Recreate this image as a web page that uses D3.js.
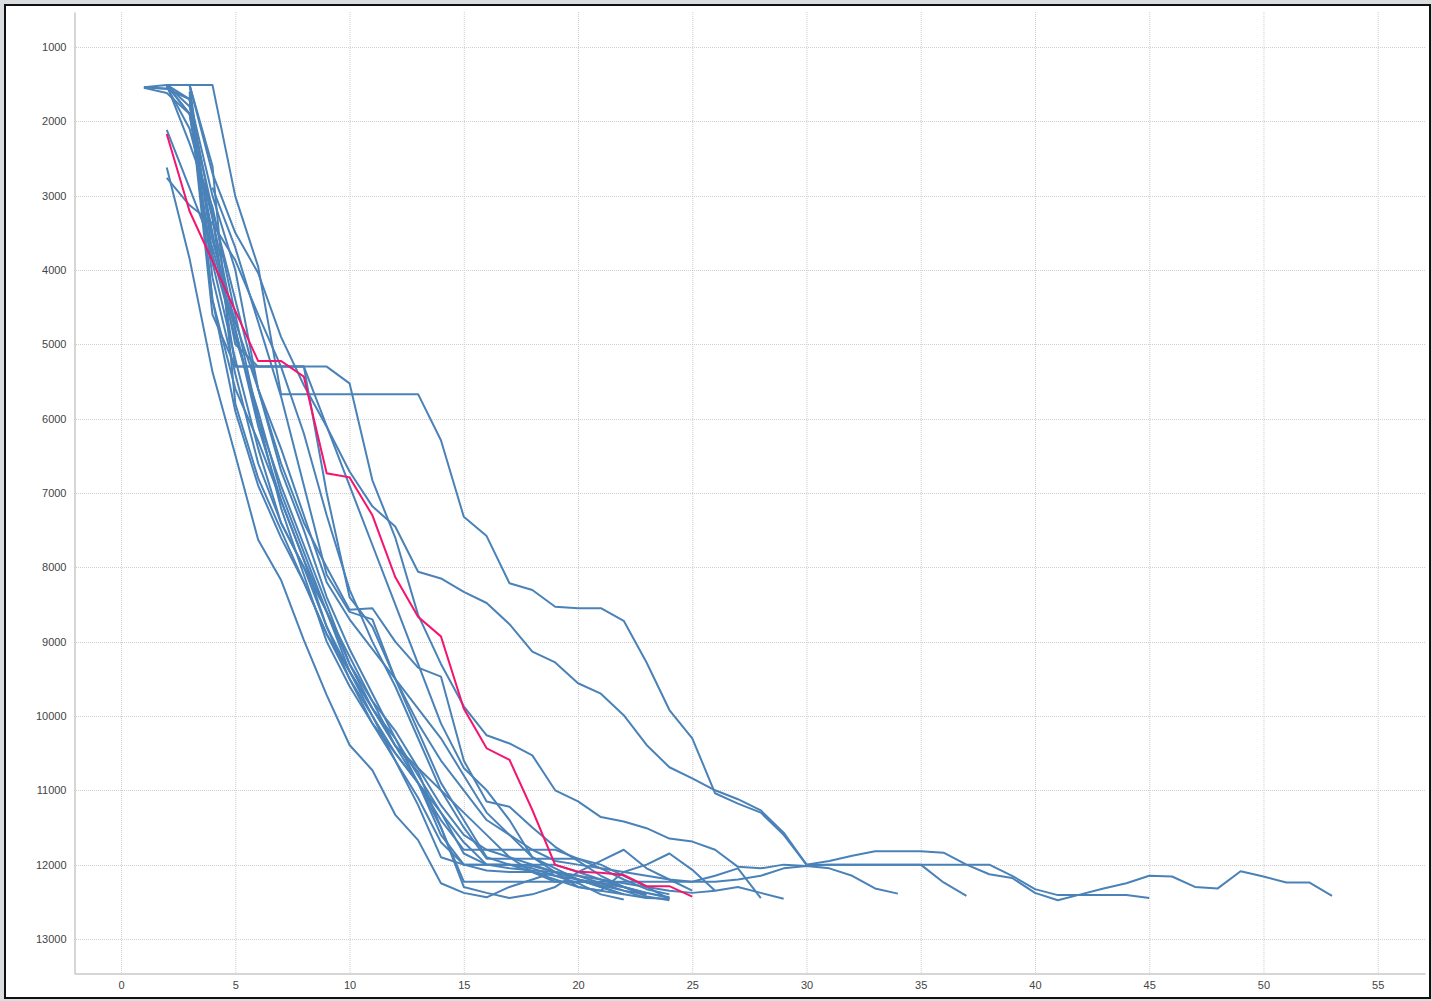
<!DOCTYPE html>
<html>
<head>
<meta charset="utf-8">
<script src="https://cdn.jsdelivr.net/npm/d3@7"></script>
<style>
  html, body { margin: 0; padding: 0; background: #d9dde0; }
  #frame { position: absolute; left: 4px; top: 4px; width: 1423px; height: 991px; border: 2px solid #111; background: #fff; }
  svg { position: absolute; left: -6px; top: -6px; }
  .tick text { font-family: "Liberation Sans", Arial, sans-serif; font-size: 11px; fill: #444; }
</style>
</head>
<body>
<div id="frame"></div>
<script>
// ---------- data ----------
const xTicks = [0, 5, 10, 15, 20, 25, 30, 35, 40, 45, 50, 55];
const yTicks = [1000, 2000, 3000, 4000, 5000, 6000, 7000, 8000, 9000, 10000, 11000, 12000, 13000];
const xExtent = [-2.06, 57.07];
const yExtent = [529, 13458];

// highlighted series (pink), starts at x = 2
const highlightStart = 2;
const highlight = [2170, 3210, 3880, 4550, 5225, 5225, 5435, 6735, 6790, 7300, 8130, 8665, 8930, 9900, 10435, 10590, 11265, 12005, 12095, 12110, 12140, 12290, 12290, 12430];

// blue series: consecutive values from a start x
const sB  = [1510, 1510, 1510, 3010, 3955, 5670, 5670, 5670, 5670, 5670, 5670, 5670, 6290, 7320, 7580, 8215, 8305, 8530, 8550, 8550, 8720, 9280, 9920, 10300, 11040, 11180, 11300, 11600, 12000, 12000, 12000, 12000, 12000, 12000, 12240, 12420];
const sC  = [1510, 1510, 2700, 3500, 4040, 4900, 5550, 6110, 6710, 7180, 7450, 8060, 8150, 8330, 8480, 8765, 9135, 9280, 9560, 9700, 9990, 10390, 10690, 10840, 11000, 11120, 11270, 11570, 12000, 11950, 11880, 11820, 11820, 11820, 11840, 12000, 12130, 12180, 12380, 12480, 12400, 12320, 12250, 12150, 12160, 12300, 12320, 12090, 12160, 12240, 12240, 12420];
const sD  = [1540, 1560, 1700, 3300, 5300, 5300, 5300, 5300, 5300, 5525, 6830, 7600, 8640, 9300, 9870, 10260, 10370, 10530, 11000, 11150, 11360, 11420, 11510, 11650, 11690, 11800, 12030, 12050, 12000, 12020, 12000, 12000, 12000, 12000, 12000, 12000, 12000, 12000, 12150, 12330, 12410, 12410, 12410, 12410, 12450];
const sE  = [1510, 1900, 3600, 4700, 5600, 6400, 7300, 8200, 8700, 9100, 9500, 9900, 10300, 10800, 11300, 11600, 11800, 11950, 12000, 12050, 12100, 12150, 12200, 12230, 12230, 12200, 12150, 12050, 12020, 12050, 12150, 12320, 12390];
const s01 = [2620, 3850, 5370, 6490, 7630, 8170, 8980, 9720, 10390, 10730, 11330, 11670, 12250, 12380, 12440, 12300, 12200, 12100, 12150, 12250, 12350, 12450];
const s02 = [2760, 3130, 3370, 3870, 4600, 5300, 6200, 7300, 8300, 9000, 9600, 10300, 11000, 11500, 11920, 11920, 11920, 11920, 11920, 12000, 12150, 12300, 12460];
const s03 = [1540, 1560, 1700, 4400, 5900, 6900, 7600, 8200, 8900, 9500, 10100, 10500, 10900, 11400, 11800, 11800, 11800, 11800, 11800, 11920, 12050, 12200, 12330, 12400];
const s04 = [2115, 2900, 3700, 4800, 6100, 7100, 7900, 8800, 9500, 10000, 10600, 11200, 11900, 12000, 12000, 12000, 12020, 12100, 12200, 12300, 12400, 12450, 12460];
const s05 = [1520, 1900, 3900, 5200, 6400, 7400, 8000, 8600, 9200, 9800, 10400, 10750, 11500, 12230, 12230, 12230, 12230, 12230, 12230, 12250, 12300, 12400];
const s06 = [1510, 1700, 4600, 5300, 5300, 5300, 5300, 7000, 8400, 8800, 9500, 10100, 10600, 11000, 11400, 11600, 11900, 12050, 12200, 12280, 12350, 12400];
const s07 = [1550, 1620, 1900, 3500, 5000, 5300, 5300, 5300, 6100, 6900, 7700, 8500, 9300, 10100, 10700, 11000, 11400, 11900, 12100, 12200, 12250, 12300, 12380, 12440];
const s08 = [1510, 2300, 3150, 4600, 6000, 6900, 7700, 8500, 9300, 9800, 10200, 10700, 11200, 11600, 11800, 11900, 12000, 12100, 12300, 12350, 12100, 12000, 11850, 12070, 12350];
const s09 = [1510, 3800, 4900, 5900, 7000, 7800, 8600, 9400, 9900, 10400, 10900, 11600, 12000, 12080, 12100, 12100, 12150, 12200, 12300, 12400];
const s10 = [1640, 4100, 5400, 6600, 7400, 8000, 8800, 9400, 10000, 10500, 10900, 11500, 12300, 12380, 12450, 12400, 12300, 12100, 11950, 11800, 12050, 12200, 12350];
const s11 = [2890, 3700, 4700, 5700, 6900, 8100, 8600, 8700, 9500, 10200, 10900, 11400, 11900, 12000, 12100, 12230, 12230, 12230, 12230, 12230, 12230, 12230, 12150, 12050, 12450];
const s12 = [1510, 1800, 3200, 4400, 5600, 6600, 7400, 8000, 8570, 8550, 9000, 9350, 9470, 10600, 11150, 11220, 11500, 11760, 11950, 12150, 12300, 12430, 12480];
const s13 = [1530, 2100, 3300, 4800, 6000, 7200, 8100, 9000, 9600, 10100, 10600, 11100, 11700, 12000, 12000, 12000, 12050, 12150, 12250, 12400, 12470];
const s14 = [1700, 3000, 4000, 5600, 6700, 7500, 8400, 9100, 9700, 10300, 10800, 11300, 11700, 12000, 12050, 12080, 12100, 12150, 12200, 12250, 12300, 12350, 12380, 12350, 12300, 12380, 12460];
const s15 = [1600, 4400, 5600, 6300, 7100, 7900, 8600, 9300, 9900, 10300, 10900, 11300, 11850, 12000, 12000, 12000, 12000, 12100, 12200, 12300, 12380, 12450];
const s16 = [1540, 1510, 1510, 2600, 5800, 6800, 7500, 8200, 8900, 9400, 9900, 10400, 10700, 11000, 11300, 11600, 11900, 12100, 12200, 12300, 12350, 12400];
const blueSeries = [sB, sC, sD, sE, s01, s02, s03, s04, s05, s06, s07, s08, s09, s10, s11, s12, s13, s14, s15, s16];
const blueStarts = [2, 2, 1, 2, 2, 2, 1, 2, 2, 2, 1, 2, 3, 3, 4, 2, 2, 3, 3, 1];

// ---------- chart ----------
const W = 1432, H = 1001;
const svg = d3.select("#frame").append("svg").attr("width", W).attr("height", H);

const x = d3.scaleLinear().domain(xExtent).range([74, 1425]);
const y = d3.scaleLinear().domain(yExtent).range([12, 973]);

// grid
const grid = svg.append("g");
grid.selectAll("line.vx").data(xTicks).join("line")
  .attr("x1", d => x(d) + 0.5).attr("x2", d => x(d) + 0.5)
  .attr("y1", 12).attr("y2", 973)
  .attr("stroke", "#cfcfcf").attr("stroke-dasharray", "1,1");
grid.selectAll("line.hy").data(yTicks).join("line")
  .attr("x1", 74).attr("x2", 1425)
  .attr("y1", d => Math.round(y(d)) + 0.5).attr("y2", d => Math.round(y(d)) + 0.5)
  .attr("stroke", "#cfcfcf").attr("stroke-dasharray", "1,1");

// axes
const xAxis = svg.append("g").attr("transform", "translate(0,973.5)")
  .call(d3.axisBottom(x).tickValues(xTicks).tickSize(0).tickPadding(8));
const yAxis = svg.append("g").attr("transform", "translate(74.5,0)")
  .call(d3.axisLeft(y).tickValues(yTicks).tickSize(0).tickPadding(8).tickFormat(d3.format("d")));
[xAxis, yAxis].forEach(g => g.select(".domain").attr("stroke", "#c8c8c8").attr("stroke-width", 1.5));

// lines
const line = d3.line().x(d => x(d[0])).y(d => y(d[1]));
const toPts = (vals, start) => vals.map((v, i) => [start + i, v]);
const allBlue = blueSeries.map((s, i) => toPts(s, blueStarts[i]));

svg.append("g").selectAll("path").data(allBlue).join("path")
  .attr("d", line).attr("fill", "none")
  .attr("stroke", "#4a82b8").attr("stroke-width", 2).attr("stroke-linejoin", "round");

svg.append("path").datum(toPts(highlight, highlightStart))
  .attr("d", line).attr("fill", "none")
  .attr("stroke", "#f5156e").attr("stroke-width", 2);
</script>
</body>
</html>
